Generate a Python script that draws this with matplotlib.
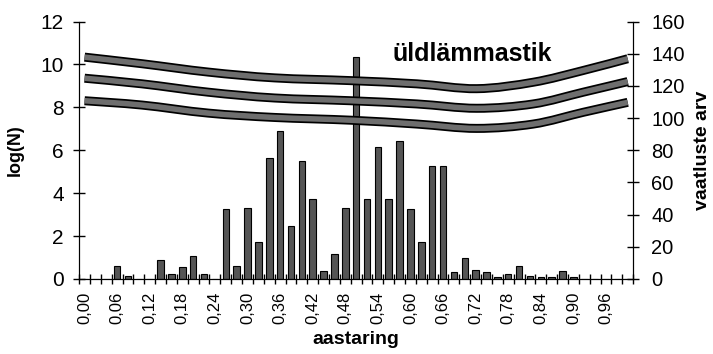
import numpy as np
import matplotlib.pyplot as plt
from matplotlib.path import Path
from matplotlib.patches import PathPatch

plt.rcParams['font.family'] = ['Liberation Sans', 'DejaVu Sans']

# aastaring classes 0,00 ... 1,00 in 0,02 steps
classes = np.round(np.arange(0, 1.001, 0.02), 2)
logN = [0, 0, 0, 0.6, 0.15, 0, 0, 0.9, 0.25, 0.56,
        1.05, 0.25, 0, 3.26, 0.59, 3.3, 1.74, 5.63, 6.91, 2.48,
        5.52, 3.74, 0.37, 1.18, 3.3, 10.36, 3.74, 6.17, 3.72, 6.45,
        3.27, 1.72, 5.29, 5.29, 0.34, 0.96, 0.40, 0.34, 0.1, 0.23,
        0.62, 0.16, 0.1, 0.1, 0.39, 0.1, 0, 0, 0, 0, 0]

# vaatluste arv curves (right axis), x given as class index
curve_x = [0, 5.3, 11.4, 17.5, 24.5, 30.6, 36.1, 41.3, 45.9, 50]
curve_top = [137.9, 133.8, 128.6, 125.0, 123.3, 121.3, 118.3, 122.3, 129.6, 136.9]
curve_mid = [124.8, 121.3, 116.1, 112.5, 110.8, 108.8, 106.1, 108.8, 116.1, 122.7]
curve_low = [110.8, 108.1, 103.1, 100.4, 98.7, 96.3, 93.6, 96.3, 103.6, 109.8]


def smooth_path(xs, ys):
    # Catmull-Rom through the points, written as cubic Bezier segments
    p = np.column_stack([xs, ys]).astype(float)
    ext = np.vstack([p[0], p, p[-1]])
    verts = [p[0]]
    codes = [Path.MOVETO]
    for i in range(1, len(ext) - 2):
        c1 = ext[i] + (ext[i + 1] - ext[i - 1]) / 6
        c2 = ext[i + 1] - (ext[i + 2] - ext[i]) / 6
        verts += [c1, c2, ext[i + 1]]
        codes += [Path.CURVE4] * 3
    return Path(verts, codes)


fig = plt.figure(figsize=(7.13, 3.54), dpi=100)
ax1 = fig.add_axes([0.111, 0.212, 0.777, 0.727])
ax2 = ax1.twinx()

x = np.arange(len(classes))
ax1.bar(x, logN, width=0.6, color='#555555', edgecolor='black', linewidth=0.8, zorder=2)

for c in (curve_top, curve_mid, curve_low):
    pth = smooth_path(curve_x, c)
    ax2.add_patch(PathPatch(pth, facecolor='none', edgecolor='black', linewidth=6.5,
                            capstyle='butt', zorder=3))
    ax2.add_patch(PathPatch(pth, facecolor='none', edgecolor='#6e6e6e', linewidth=4,
                            capstyle='butt', zorder=4))

ax1.set_xlim(-0.5, len(classes) - 0.5)
ax1.set_ylim(0, 12)
ax2.set_ylim(0, 160)
ax1.set_yticks(range(0, 13, 2))
ax2.set_yticks(range(0, 161, 20))

ax1.set_xticks(np.arange(len(classes) + 1) - 0.5, minor=True)
ax1.set_xticks(x[::3])
ax1.set_xticklabels([('%.2f' % v).replace('.', ',') for v in classes[::3]], rotation=90)
ax1.xaxis.set_tick_params(which='major', length=0, labelsize=12, pad=9)
ax1.xaxis.set_tick_params(which='minor', length=7, direction='inout', width=1)
ax1.yaxis.set_tick_params(length=8, direction='inout', labelsize=15, width=1, pad=7)
ax2.yaxis.set_tick_params(length=8, direction='inout', labelsize=14.5, width=1, pad=9)

for ax in (ax1, ax2):
    ax.spines['top'].set_visible(False)

ax1.set_xlabel('aastaring', fontsize=14, fontweight='bold', labelpad=5)
ax1.set_ylabel('log(N)', fontsize=13, fontweight='bold', labelpad=12)
ax2.set_ylabel('vaatluste arv', fontsize=14, fontweight='bold')
ax2.yaxis.set_label_coords(1.125, 0.5)
ax2.yaxis.label.set_va('center')
ax2.text(0.565, 0.875, 'üldlämmastik', transform=ax2.transAxes, fontsize=18,
         fontweight='bold', va='center', ha='left')

fig.savefig('out.png', dpi=100)
